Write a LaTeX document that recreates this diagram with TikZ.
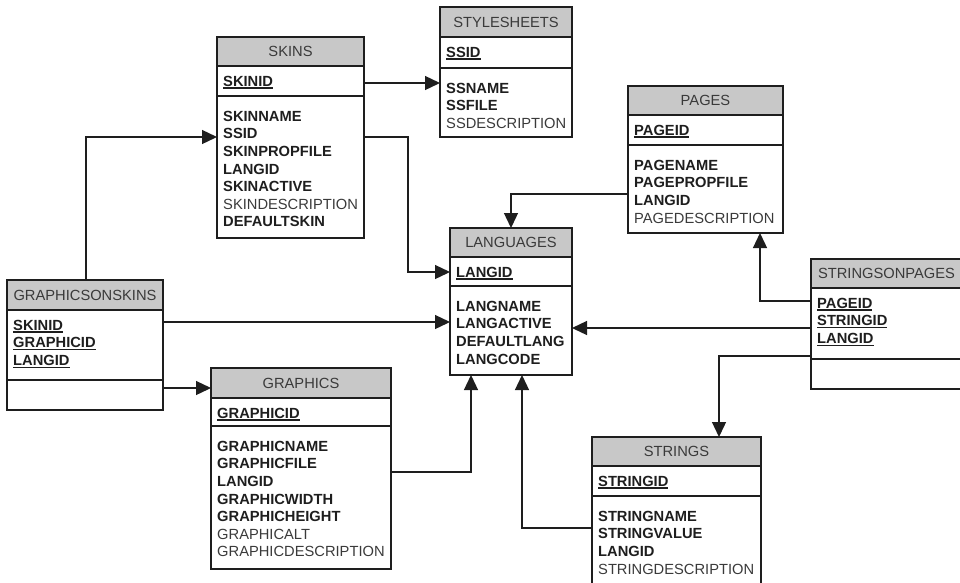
\documentclass[tikz,border=0pt]{standalone}
\usepackage{fontspec}
\setmainfont{Liberation Sans}
\usetikzlibrary{arrows.meta}

\definecolor{hdrfill}{HTML}{C8C8C8}
\definecolor{ink}{HTML}{1E1E1E}
\definecolor{softink}{HTML}{3A3A3A}

\tikzset{
  tbl/.style={draw=ink, line width=1.7pt, inner sep=0pt, outer sep=0pt},
  hdr/.style={tbl, fill=hdrfill},
  hdrtext/.style={font=\fontsize{14.7}{17.6}\selectfont, text=softink, inner sep=0pt, anchor=base},
  fieldtext/.style={font=\fontsize{14.7}{17.6}\selectfont\bfseries, text=ink, inner sep=0pt, anchor=base west},
  fk/.style={draw=ink, line width=1.3pt, -{Triangle[length=15pt,width=14pt]}},
}
% non-key, optional column
\newcommand\plain{\mdseries\color{softink}}
% underlined key name with a firm rule just below the baseline
\newcommand\keyname[1]{\setbox0\hbox{#1}\rlap{\rule[-2.4pt]{\wd0}{1.3pt}}\box0}

% #1 name, #2 left, #3 right, #4 top, #5 header bottom, #6 key bottom, #7 bottom, #8 title
\newcommand\ertable[8]{%
  \node[hdr, anchor=north west, minimum width={(#3-#2)*1pt}, minimum height={(#5-#4)*1pt}] (#1-h) at (#2,#4) {};
  \node[tbl, anchor=north west, minimum width={(#3-#2)*1pt}, minimum height={(#6-#5)*1pt}] (#1-k) at (#2,#5) {};
  \node[tbl, anchor=north west, minimum width={(#3-#2)*1pt}, minimum height={(#7-#4)*1pt}] (#1) at (#2,#4) {};
  \node[hdrtext] (#1-t) at ({(#2+#3)/2},{(#4+#5)/2+5.3}) {#8};
}
% primary key columns: #1 name, #2 left, #3 header bottom, #4 list
\newcommand\erkeys[4]{%
  \foreach \f [count=\i] in {#4}
    \node[fieldtext] (#1-key\i) at (#2+6,{#3+15+(\i-1)*17.6+5.3}) {\keyname{\f}};
}
% other columns: #1 name, #2 left, #3 key bottom, #4 list
\newcommand\erattrs[4]{%
  \foreach \f [count=\i] in {#4}
    \node[fieldtext] (#1-col\i) at (#2+6,{#3+20+(\i-1)*17.6+5.3}) {\f};
}

\begin{document}
\begin{tikzpicture}[x=1pt, y=-1pt]
\useasboundingbox (0,0) rectangle (960,582);
\clip (0,0) rectangle (960,582);

% tables
\ertable{ss}{440}{572}{7}{37}{68}{137}{STYLESHEETS}
\erkeys{ss}{440}{37}{SSID}
\erattrs{ss}{440}{68}{SSNAME, SSFILE, \plain SSDESCRIPTION}

\ertable{skins}{217}{364}{37}{66}{96}{238}{SKINS}
\erkeys{skins}{217}{66}{SKINID}
\erattrs{skins}{217}{96}{SKINNAME, SSID, SKINPROPFILE, LANGID, SKINACTIVE, \plain SKINDESCRIPTION, DEFAULTSKIN}

\ertable{pages}{628}{783}{86}{115}{145}{233}{PAGES}
\erkeys{pages}{628}{115}{PAGEID}
\erattrs{pages}{628}{145}{PAGENAME, PAGEPROPFILE, LANGID, \plain PAGEDESCRIPTION}

\ertable{langs}{450}{572}{228}{257}{286}{375}{LANGUAGES}
\erkeys{langs}{450}{257}{LANGID}
\erattrs{langs}{450}{286}{LANGNAME, LANGACTIVE, DEFAULTLANG, LANGCODE}

\ertable{gos}{7}{163}{280}{310}{380}{410}{GRAPHICSONSKINS}
\erkeys{gos}{7}{310}{SKINID, GRAPHICID, LANGID}

\ertable{gfx}{211}{391}{368}{398}{426}{569}{GRAPHICS}
\erkeys{gfx}{211}{398}{GRAPHICID}
\erattrs{gfx}{211}{426}{GRAPHICNAME, GRAPHICFILE, LANGID, GRAPHICWIDTH, GRAPHICHEIGHT, \plain GRAPHICALT, \plain GRAPHICDESCRIPTION}

\ertable{sop}{811}{962}{259}{288}{359}{389}{STRINGSONPAGES}
\erkeys{sop}{811}{288}{PAGEID, STRINGID, LANGID}

\ertable{str}{592}{761}{437}{466}{496}{592}{STRINGS}
\erkeys{str}{592}{466}{STRINGID}
\erattrs{str}{592}{496}{STRINGNAME, STRINGVALUE, LANGID, \plain STRINGDESCRIPTION}

% foreign keys
\draw[fk] (skins.east |- 0,83) -- (ss.west |- 0,83);
\draw[fk] (skins.east |- 0,137) -- (408,137) |- (langs.west |- 0,272);
\draw[fk] (gos.north -| 86,0) |- (skins.west |- 0,137);
\draw[fk] (gos.east |- 0,322) -- (langs.west |- 0,322);
\draw[fk] (gos.east |- 0,388) -- (gfx.west |- 0,388);
\draw[fk] (gfx.east |- 0,472) -| (langs.south -| 471,0);
\draw[fk] (pages.west |- 0,194) -| (langs.north -| 511,0);
\draw[fk] (sop.west |- 0,301) -| (pages.south -| 760,0);
\draw[fk] (sop.west |- 0,328) -- (langs.east |- 0,328);
\draw[fk] (sop.west |- 0,356) -| (str.north -| 719,0);
\draw[fk] (str.west |- 0,528) -| (langs.south -| 522,0);
\end{tikzpicture}
\end{document}
